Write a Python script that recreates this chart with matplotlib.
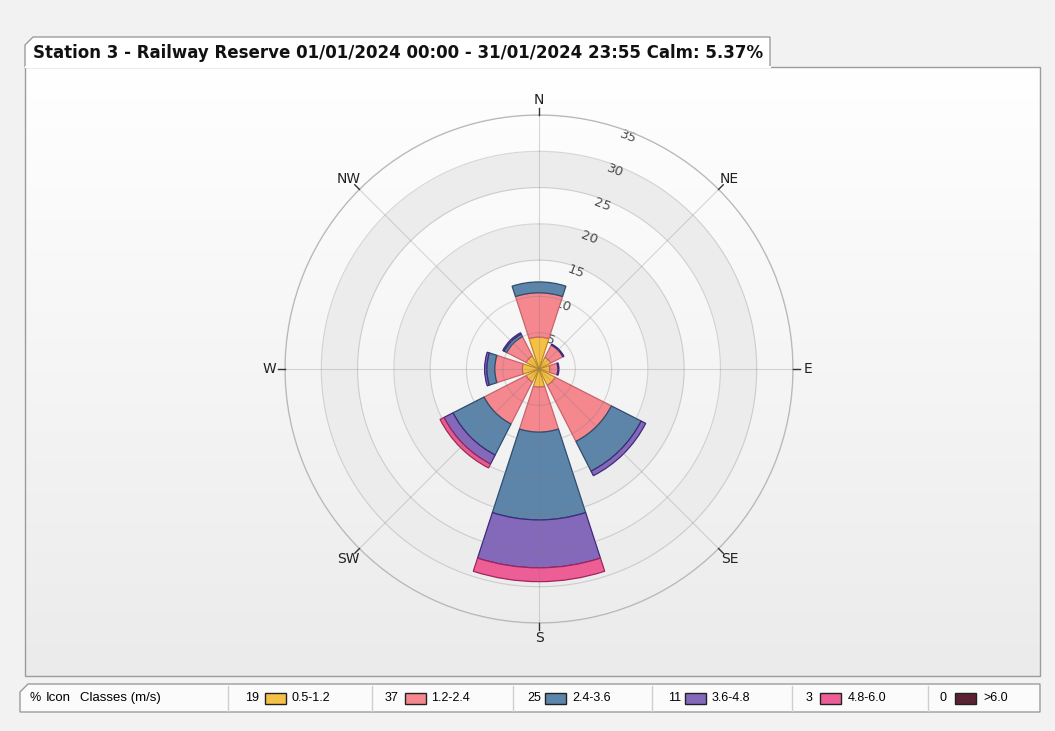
import numpy as np
import matplotlib
matplotlib.use('Agg')
import matplotlib.pyplot as plt
from matplotlib.patches import Rectangle, Polygon
from matplotlib.colors import LinearSegmentedColormap
from matplotlib import font_manager

# ---------------- data ----------------
directions = ['N', 'NE', 'E', 'SE', 'S', 'SW', 'W', 'NW']
angles_deg = [0, 45, 90, 135, 180, 225, 270, 315]
classes = ['0.5-1.2', '1.2-2.4', '2.4-3.6', '3.6-4.8', '4.8-6.0', '>6.0']
class_pct = [19, 37, 25, 11, 3, 0]
# frequency (%) per direction for each speed class
c1 = [4.4, 1.8, 1.5, 2.5, 2.5, 2.0, 2.3, 2.0]
c2 = [6.1, 1.9, 1.1, 8.7, 6.2, 6.5, 3.8, 3.0]
c3 = [1.5, 0.0, 0.0, 4.6, 12.1, 4.8, 1.1, 0.4]
c4 = [0.0, 0.15, 0.15, 0.7, 6.6, 1.4, 0.3, 0.2]
c5 = [0.0, 0.0, 0.0, 0.0, 1.9, 0.6, 0.0, 0.0]
c6 = [0.0, 0.0, 0.0, 0.0, 0.0, 0.0, 0.0, 0.0]
radial_ticks = [5, 10, 15, 20, 25, 30, 35]
title = 'Station 3 - Railway Reserve 01/01/2024 00:00 - 31/01/2024 23:55 Calm: 5.37%'

face = ['#f4c146', '#f5878f', '#5d85a9', '#8469bb', '#ee5e96', '#5a2232']
edge = ['#c08a20', '#c8646c', '#2e4d6c', '#3e2a7a', '#a2245a', '#2c0a14']

W, H = 1055, 731
fig = plt.figure(figsize=(W / 100, H / 100), dpi=100, facecolor='#f2f2f2')

# ---------------- background / frame ----------------
bg = fig.add_axes([0, 0, 1, 1])
bg.axis('off')
grad = np.linspace(0, 1, 256)[:, None]
cmap = LinearSegmentedColormap.from_list('g', ['#ffffff', '#ebebeb'])
bg.imshow(grad, extent=(25, 1040, 676, 67), cmap=cmap, aspect='auto', zorder=1)
bg.add_patch(Rectangle((25, 67), 1015, 609, fill=False, ec='#9c9c9c', lw=1, zorder=2))
# title tab
bg.add_patch(Polygon([(25, 67), (25, 45), (33, 37), (770, 37), (770, 67)], closed=True,
                     fc='white', ec='#9c9c9c', lw=1, zorder=3))
bg.plot([25.5, 769.5], [67, 67], color='white', lw=1.5, zorder=4)
t = bg.text(33, 53, title, fontsize=10, fontweight='bold', va='center', ha='left',
            color='#111111', zorder=5)
# legend strip
bg.add_patch(Polygon([(20, 712), (20, 692), (28, 684), (1040, 684), (1040, 712)], closed=True,
                     fc='#fbfbfb', ec='#9c9c9c', lw=1, zorder=3))
bg.set_xlim(0, W)
bg.set_ylim(H, 0)

avail = {f.name for f in font_manager.fontManager.ttflist}
lfont = 'Liberation Sans Narrow' if 'Liberation Sans Narrow' in avail else 'Liberation Sans'
ly = 698
bg.text(30, ly, '%', fontsize=9, family=lfont, va='center', ha='left', zorder=5)
bg.text(46, ly, 'Icon', fontsize=9.5, family=lfont, va='center', ha='left', zorder=5)
bg.text(80, ly, 'Classes (m/s)', fontsize=9.5, family=lfont, va='center', ha='left', zorder=5)
seps = [228, 372, 513, 652, 792, 928]
num_x = [245, 385, 527, 668, 806, 940]
box_x = [265, 405, 545, 685, 820, 955]
lab_x = [291, 431, 572, 712, 848, 983]
for s in seps:
    bg.plot([s, s], [686, 711], color='#cfcfcf', lw=1, zorder=4)
for i in range(len(classes)):
    bg.text(num_x[i], ly, str(class_pct[i]), fontsize=9, family=lfont, va='center', ha='left', zorder=5)
    bg.add_patch(Rectangle((box_x[i], ly - 5.5), 21, 11, fc=face[i], ec='#222222', lw=1, zorder=5))
    bg.text(lab_x[i], ly, classes[i], fontsize=9, family=lfont, va='center', ha='left', zorder=5)

# ---------------- polar rose ----------------
cx, cy, R = 539, 369, 254
ax = fig.add_axes([(cx - R) / W, 1 - (cy + R) / H, 2 * R / W, 2 * R / H], projection='polar')
ax.set_facecolor('none')
ax.set_theta_zero_location('N')
ax.set_theta_direction(-1)
rmax = radial_ticks[-1]
ax.set_ylim(0, rmax)
ax.set_xticks([])
ax.set_yticks([])
ax.spines['polar'].set_color('#c4c4c4')
ax.spines['polar'].set_linewidth(1)

full = np.linspace(0, 2 * np.pi, 721)
# alternating shaded bands
for r0 in [15, 25]:
    ax.fill_between(full, r0, r0 + 5, color='#ececec', lw=0, zorder=0.5)

# radial labels (under the bars)
lab_th = np.deg2rad(21)
for v in radial_ticks:
    ax.text(lab_th, v - 0.7, str(v), rotation=-21, ha='center', va='center',
            rotation_mode='anchor', fontsize=9.5, color='#4a4a4a', zorder=2)

theta = np.deg2rad(angles_deg)
width = np.deg2rad(36)
bottom = np.zeros(len(directions))
for vals, fc, ec in zip([c1, c2, c3, c4, c5, c6], face, edge):
    v = np.array(vals, dtype=float)
    m = v > 0
    if m.any():
        ax.bar(theta[m], v[m], width=width, bottom=bottom[m], color=fc, edgecolor=ec,
               linewidth=0.9, zorder=3)
    bottom += v

# grid on top (faint)
for r in radial_ticks:
    ax.plot(full, np.full_like(full, r), color='#7a7a7a', alpha=0.28, lw=0.8, zorder=5)
for th in theta:
    ax.plot([th, th], [0, rmax], color='#7a7a7a', alpha=0.28, lw=0.8, zorder=5)
    ax.plot([th, th], [rmax, rmax + 0.9], color='#333333', lw=1, zorder=6, clip_on=False)

for th, name in zip(theta, directions):
    ax.text(th, rmax + 2.1, name, ha='center', va='center', fontsize=10, color='#222222')

# fit title width to the tab
fig.canvas.draw()
w = t.get_window_extent().width
t.set_fontsize(10 * 732 / w)

fig.savefig('out.png', dpi=100, facecolor=fig.get_facecolor())
